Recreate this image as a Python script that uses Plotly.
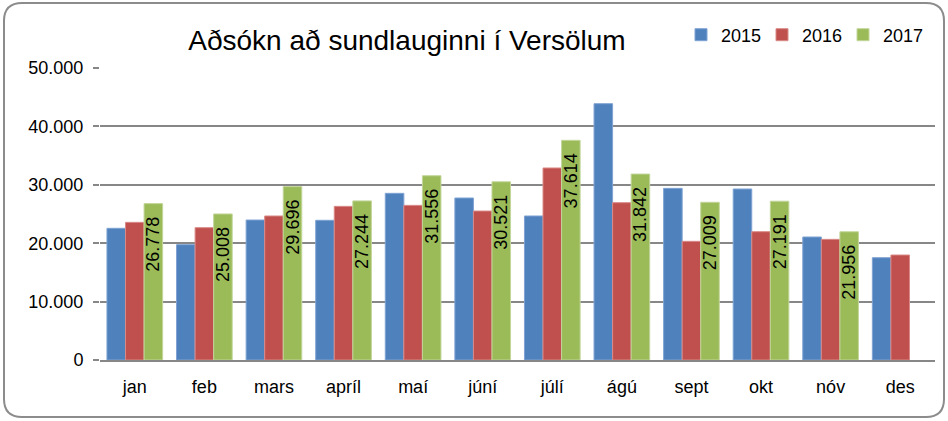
import plotly.graph_objects as go

months = ["jan", "feb", "mars", "apríl", "maí", "júní", "júlí", "ágú", "sept", "okt", "nóv", "des"]
y2015 = [22550, 19750, 23970, 23920, 28540, 27740, 24660, 43890, 29390, 29280, 21060, 17520]
y2016 = [23570, 22660, 24660, 26310, 26480, 25510, 32880, 26940, 20320, 21970, 20660, 17980]
y2017 = [26778, 25008, 29696, 27244, 31556, 30521, 37614, 31842, 27009, 27191, 21956, None]
series_names = ["2015", "2016", "2017"]
colors = ["#4F81BD", "#C0504D", "#9BBB59"]
edge = ["#7FA3D3", "#D98A88", "#C3D69B"]

FONT = "Liberation Sans"
W, H = 948, 421
ml, mr, mt, mb = 100, 13, 68, 61

fig = go.Figure()
for name, vals, c, e in zip(series_names, [y2015, y2016, y2017], colors, edge):
    show_text = name == "2017"
    fig.add_trace(go.Bar(
        x=months, y=vals, name=name,
        marker=dict(color=c, line=dict(color=e, width=1)),
        texttemplate="%{y:,.0f}\u00a0\u00a0" if show_text else None,
        textposition="inside" if show_text else "none",
        insidetextanchor="end",
        textangle=-90,
        textfont=dict(family=FONT, size=18, color="black"),
        hoverinfo="x+y+name",
    ))

pw = W - ml - mr
ph = H - mt - mb
def px2x(px):
    return (px - ml) / pw
def py2y(py):
    return (H - mb - py) / ph

x0, x1, y0, y1, r = 4, 944, 3, 417, 18
path = (
    f"M {px2x(x0 + r)},{py2y(y0)} "
    f"L {px2x(x1 - r)},{py2y(y0)} "
    f"Q {px2x(x1)},{py2y(y0)} {px2x(x1)},{py2y(y0 + r)} "
    f"L {px2x(x1)},{py2y(y1 - r)} "
    f"Q {px2x(x1)},{py2y(y1)} {px2x(x1 - r)},{py2y(y1)} "
    f"L {px2x(x0 + r)},{py2y(y1)} "
    f"Q {px2x(x0)},{py2y(y1)} {px2x(x0)},{py2y(y1 - r)} "
    f"L {px2x(x0)},{py2y(y0 + r)} "
    f"Q {px2x(x0)},{py2y(y0)} {px2x(x0 + r)},{py2y(y0)} Z"
)

fig.update_layout(
    width=W, height=H,
    margin=dict(l=ml, r=mr, t=mt, b=mb, autoexpand=False),
    paper_bgcolor="white", plot_bgcolor="white",
    separators=",.",
    barmode="group",
    bargap=0.2, bargroupgap=0,
    uniformtext=dict(minsize=18, mode="show"),
    font=dict(family=FONT, color="black"),
    title=dict(text="Aðsókn að sundlauginni í Versölum", x=407 / W, xanchor="center",
               y=1 - 40 / H, yanchor="middle", yref="container",
               font=dict(family=FONT, size=28, color="black")),
    legend=dict(orientation="h", x=px2x(681), xanchor="left", y=py2y(35), yanchor="middle",
                font=dict(family=FONT, size=18, color="black"), bgcolor="rgba(0,0,0,0)",
                itemwidth=30, entrywidth=36, entrywidthmode="pixels", traceorder="normal"),
    xaxis=dict(showline=True, linecolor="#878787", linewidth=2, ticks="",
               tickfont=dict(family=FONT, size=18, color="black"), ticklabelstandoff=9),
    yaxis=dict(range=[0, 50000], dtick=10000, tickformat=",.0f",
               showgrid=True, gridcolor="#878787", gridwidth=2,
               zeroline=False, showline=False,
               ticks="outside", ticklen=6, tickcolor="#878787", tickwidth=2,
               tickfont=dict(family=FONT, size=18, color="black"), ticklabelstandoff=6),
    shapes=[dict(type="path", path=path, xref="paper", yref="paper",
                 line=dict(color="#8C8C8C", width=2), fillcolor="rgba(0,0,0,0)", layer="above")],
)

fig.write_html("out.html", config={"displayModeBar": False},
               post_script="document.body.style.margin='0';document.body.style.overflow='hidden';")
